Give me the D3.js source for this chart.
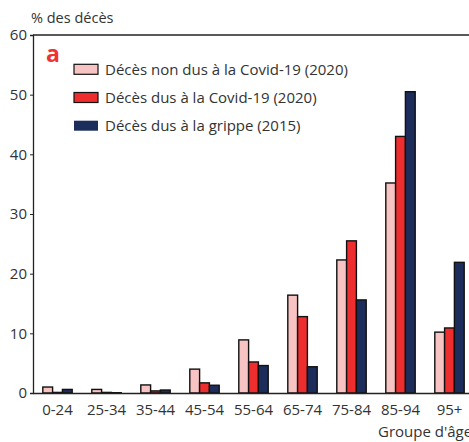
<!DOCTYPE html>
<html>
<head>
<meta charset="utf-8">
<script src="https://cdn.jsdelivr.net/npm/d3@7"></script>
<style>
  body { margin: 0; background: #fff; overflow: hidden; }
  text { font-family: "Open Sans", "Noto Sans", sans-serif; fill: #333; }
</style>
</head>
<body>
<div id="chart"></div>
<script>
// groupes d'âge
var groupes = ["0-24", "25-34", "35-44", "45-54", "55-64", "65-74", "75-84", "85-94", "95+"];
var series = ["Décès non dus à la Covid-19 (2020)", "Décès dus à la Covid-19 (2020)", "Décès dus à la grippe (2015)"];
var couleurs = ["#f8c3c3", "#ee2e2e", "#1d2d5b"];

// valeurs (% des décès)
var nonCovid = [1.0, 0.6, 1.35, 4.0, 8.9, 16.4, 22.3, 35.2, 10.2];
var covid    = [0.1, 0.1, 0.35, 1.7, 5.2, 12.8, 25.5, 43.0, 10.9];
var grippe   = [0.6, 0.05, 0.5, 1.3, 4.6, 4.4, 15.6, 50.5, 21.9];
var yTicks = [0, 10, 20, 30, 40, 50, 60];

var width = 469, height = 442;
var margin = {top: 35, left: 33, bottom: 49};
var plotRight = 474; // le graphique déborde un peu à droite

var svg = d3.select("#chart").append("svg")
    .attr("width", width)
    .attr("height", height);

var x = d3.scaleBand()
    .domain(groupes)
    .range([margin.left, plotRight])
    .paddingInner(0)
    .paddingOuter(0);

var xIn = d3.scaleBand()
    .domain(d3.range(3))
    .range([x.bandwidth() * 0.2, x.bandwidth() * 0.8]);

var y = d3.scaleLinear()
    .domain([0, 60])
    .range([height - margin.bottom, margin.top]);

var data = groupes.map(function(g, i) {
    return {groupe: g, vals: [nonCovid[i], covid[i], grippe[i]]};
});

// barres
var grp = svg.append("g").selectAll("g")
    .data(data)
    .enter().append("g")
    .attr("transform", function(d) { return "translate(" + x(d.groupe) + ",0)"; });

grp.selectAll("rect")
    .data(function(d) { return d.vals; })
    .enter().append("rect")
    .attr("x", function(d, i) { return xIn(i); })
    .attr("y", function(d) { return y(d); })
    .attr("width", xIn.bandwidth())
    .attr("height", function(d) { return y(0) - y(d); })
    .attr("fill", function(d, i) { return couleurs[i]; })
    .attr("stroke", "#111")
    .attr("stroke-width", 1.4);

// axe y
var yAxis = svg.append("g")
    .attr("transform", "translate(" + margin.left + ",0)")
    .call(d3.axisLeft(y).tickValues(yTicks).tickSize(3).tickPadding(3));
yAxis.select(".domain").attr("stroke", "#222").attr("stroke-width", 1.3);
yAxis.selectAll(".tick line").attr("stroke", "#222");
yAxis.selectAll("text").style("font-size", "15px").attr("fill", "#333");

// axe x
var xAxis = svg.append("g")
    .attr("transform", "translate(0," + y(0) + ")")
    .call(d3.axisBottom(x).tickSize(0).tickPadding(11));
xAxis.select(".domain").attr("stroke", "#222").attr("stroke-width", 1.3);
xAxis.selectAll("text").style("font-size", "15px").attr("fill", "#333");

// cadre du haut
svg.append("line")
    .attr("x1", margin.left).attr("x2", plotRight)
    .attr("y1", y(60)).attr("y2", y(60))
    .attr("stroke", "#222").attr("stroke-width", 1.3);

// titres
svg.append("text")
    .attr("x", 31).attr("y", 23)
    .style("font-size", "14.5px")
    .text("% des décès");

svg.append("text")
    .attr("x", 378).attr("y", 437)
    .style("font-size", "15px")
    .text("Groupe d'âge");

svg.append("text")
    .attr("x", 46).attr("y", 62)
    .style("font-size", "23px")
    .style("font-weight", "bold")
    .style("fill", "#ee3333")
    .text("a");

// légende
var leg = svg.append("g").selectAll("g")
    .data(series)
    .enter().append("g")
    .attr("transform", function(d, i) { return "translate(74," + (64.3 + i * 28.2) + ")"; });

leg.append("rect")
    .attr("width", 24).attr("height", 10)
    .attr("fill", function(d, i) { return couleurs[i]; })
    .attr("stroke", "#111")
    .attr("stroke-width", function(d, i) { return i == 2 ? 0 : 1.2; });

leg.append("text")
    .attr("x", 31).attr("y", 10.5)
    .style("font-size", "15px")
    .text(function(d) { return d; });
</script>
</body>
</html>
